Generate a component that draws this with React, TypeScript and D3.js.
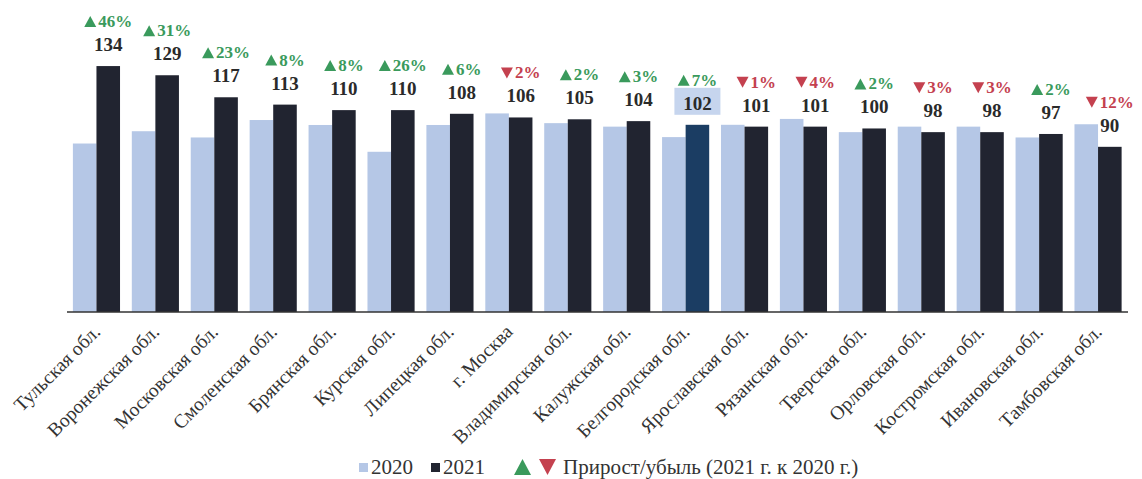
import React from "react";
import * as d3 from "d3";

const categories = [
  "Тульская обл.",
  "Воронежская обл.",
  "Московская обл.",
  "Смоленская обл.",
  "Брянская обл.",
  "Курская обл.",
  "Липецкая обл.",
  "г. Москва",
  "Владимирская обл.",
  "Калужская обл.",
  "Белгородская обл.",
  "Ярославская обл.",
  "Рязанская обл.",
  "Тверская обл.",
  "Орловская обл.",
  "Костромская обл.",
  "Ивановская обл.",
  "Тамбовская обл.",
];

const values2021 = [134, 129, 117, 113, 110, 110, 108, 106, 105, 104, 102, 101, 101, 100, 98, 98, 97, 90];
const values2020 = [91.8, 98.5, 95.1, 104.6, 101.9, 87.3, 101.9, 108.2, 102.9, 101.0, 95.3, 102.0, 105.2, 98.0, 101.0, 101.0, 95.1, 102.3];
const changePct = [46, 31, 23, 8, 8, 26, 6, -2, 2, 3, 7, -1, -4, 2, -3, -3, 2, -12];
const highlighted = "Белгородская обл.";

const legendLabels = ["2020", "2021", "Прирост/убыль (2021 г. к 2020 г.)"];

const W = 1142;
const H = 479;
const LIGHT = "#b5c7e6";
const DARK = "#212430";
const HIGHLIGHT_DARK = "#1b3d63";
const GREEN = "#3a9a5c";
const RED = "#c4414f";
const FONT = "'Liberation Serif', 'Times New Roman', serif";

export default function App() {
  const x = d3.scaleBand<string>().domain(categories).range([67, 1127.5]).paddingInner(0.2).paddingOuter(0.1);
  const half = x.bandwidth() / 2;
  const y = d3.scaleLinear().domain([0, 170]).range([312, 0]);
  const baseline = y(0);

  const pctFont = 17;
  const triW = 12;
  const triH = 11;

  return (
    <svg
      width={W}
      height={H}
      viewBox={`0 0 ${W} ${H}`}
      style={{ position: "absolute", left: 0, top: 0, background: "#fff" }}
      fontFamily={FONT}
    >
      <rect x={0} y={0} width={W} height={H} fill="#fff" />
      {categories.map((c, i) => {
        const x0 = x(c)!;
        const v20 = values2020[i];
        const v21 = values2021[i];
        const isHL = c === highlighted;
        const cx = x0 + half + half / 2;
        const valBase = y(v21) - 15;
        const pctBase = valBase - 24;
        const p = changePct[i];
        const txt = `${Math.abs(p)}%`;
        const digits = String(Math.abs(p)).length;
        const textW = (digits * 0.5 + 1.0) * pctFont;
        const total = triW + 2 + textW;
        const sx = cx - total / 2;
        const up = p >= 0;
        const tri = up
          ? `M${sx},${pctBase} L${sx + triW},${pctBase} L${sx + triW / 2},${pctBase - triH} Z`
          : `M${sx},${pctBase - triH} L${sx + triW},${pctBase - triH} L${sx + triW / 2},${pctBase} Z`;
        return (
          <g key={c}>
            <rect x={x0} y={y(v20)} width={half} height={baseline - y(v20)} fill={LIGHT} />
            <rect x={x0 + half} y={y(v21)} width={half} height={baseline - y(v21)} fill={isHL ? HIGHLIGHT_DARK : DARK} />
            {isHL && <rect x={cx - 23} y={valBase - 22} width={46} height={27} fill="#c6d5ee" />}
            <text x={cx} y={valBase} textAnchor="middle" fontSize={19} fontWeight="bold" fill="#2a2a2a">
              {v21}
            </text>
            <path d={tri} fill={up ? GREEN : RED} />
            <text x={sx + triW + 2} y={pctBase} fontSize={pctFont} fontWeight="bold" fill={up ? GREEN : RED}>
              {txt}
            </text>
            <text
              transform={`translate(${x0 + half + 5},${333}) rotate(-45)`}
              textAnchor="end"
              fontSize={19.5}
              fill="#333"
            >
              {c}
            </text>
          </g>
        );
      })}
      <line x1={67} x2={1128} y1={baseline} y2={baseline} stroke="#333" strokeWidth={1.6} />

      <g fontSize={21} fill="#333">
        <rect x={359} y={463} width={9} height={9} fill={LIGHT} />
        <text x={371} y={474}>{legendLabels[0]}</text>
        <rect x={431} y={463} width={9} height={9} fill={DARK} />
        <text x={443} y={474}>{legendLabels[1]}</text>
        <path d="M514,475 L531,475 L522.5,459 Z" fill={GREEN} />
        <path d="M539,459 L556,459 L547.5,475 Z" fill={RED} />
        <text x={563} y={474}>{legendLabels[2]}</text>
      </g>
    </svg>
  );
}
